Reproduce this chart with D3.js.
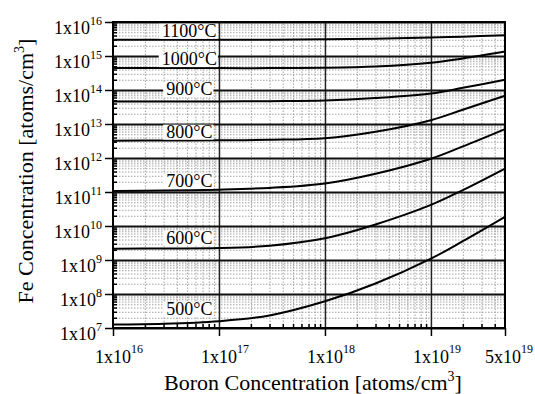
<!DOCTYPE html>
<html>
<head>
<meta charset="utf-8">
<script src="https://cdn.jsdelivr.net/npm/d3@7"></script>
<style>
  body { margin: 0; background: #fff; }
  svg { display: block; }
  text { font-family: "Liberation Serif", "Times New Roman", serif; fill: #000; }
</style>
</head>
<body>
<svg id="chart" width="535" height="394"></svg>
<script>
// Boron concentration sample points [atoms/cm^3]
const boron = [1e16, 3e16, 1e17, 3e17, 1e18, 3e18, 1e19, 2e19, 5e19];

// Fe solubility [atoms/cm^3] at each boron concentration, per anneal temperature
const fe1100 = [3.0e15, 3.0e15, 3.0e15, 3.0e15, 3.1e15, 3.2e15, 3.5e15, 3.7e15, 4.1e15];
const fe1000 = [4.4e14, 4.4e14, 4.4e14, 4.4e14, 4.5e14, 4.9e14, 6.3e14, 8.5e14, 1.35e15];
const fe900  = [4.6e13, 4.6e13, 4.6e13, 4.7e13, 4.9e13, 5.8e13, 7.9e13, 1.16e14, 2.0e14];
const fe800  = [3.24e12, 3.27e12, 3.31e12, 3.43e12, 3.8e12, 5.9e12, 1.29e13, 2.63e13, 6.8e13];
const fe700  = [1.07e11, 1.1e11, 1.17e11, 1.32e11, 1.78e11, 3.44e11, 9.5e11, 2.19e12, 7.1e12];
const fe600  = [2.16e9, 2.19e9, 2.24e9, 2.63e9, 4.37e9, 1.11e10, 4.17e10, 1.14e11, 4.9e11];
const fe500  = [1.26e7, 1.33e7, 1.59e7, 2.34e7, 6.1e7, 2.04e8, 1.1e9, 3.58e9, 1.86e10];

const temperatures = ["1100°C", "1000°C", "900°C", "800°C", "700°C", "600°C", "500°C"];
const series = [fe1100, fe1000, fe900, fe800, fe700, fe600, fe500];

// Axis tick labels: mantissa and exponent
const xTicks = [1e16, 1e17, 1e18, 1e19, 5e19];
const xTickMantissa = ["1", "1", "1", "1", "5"];
const xTickExponent = ["16", "17", "18", "19", "19"];
const yTickExponent = [7, 8, 9, 10, 11, 12, 13, 14, 15, 16];

// ---- layout ----
const W = 535, H = 394;
const plot = { left: 113, right: 505, top: 22, bottom: 328 };
const labelCenter = 5.25e16;              // boron value under the curve labels
const labelShift = [-3, -3, -6.5, -3, -4, -5, -10]; // label baseline relative to curve start

const svg = d3.select("#chart");
svg.append("rect").attr("width", W).attr("height", H).attr("fill", "#fff");

const x = d3.scaleLog().domain([1e16, 5e19]).range([plot.left, plot.right]);
const y = d3.scaleLog().domain([1e7, 1e16]).range([plot.bottom, plot.top]);

const pw = plot.right - plot.left, ph = plot.bottom - plot.top;

// minor values (2..9 of each decade)
const minorX = [];
for (let k = 16; k <= 19; k++) for (let m = 2; m <= 9; m++) { const v = m * Math.pow(10, k); if (v < 5e19) minorX.push(v); }
const minorY = [];
for (let k = 7; k <= 15; k++) for (let m = 2; m <= 9; m++) minorY.push(m * Math.pow(10, k));
const majorY = yTickExponent.map(e => Math.pow(10, e));
const majorXGrid = [1e17, 1e18, 1e19];

// ---- grid ----
const minorStyle = sel => sel.attr("stroke", "#9a9a9a").attr("stroke-width", 0.9).attr("stroke-dasharray", "1.5,1.5");
const grid = svg.append("g");
grid.append("g").attr("transform", `translate(0,${plot.bottom})`)
  .call(d3.axisBottom(x).tickValues(minorX).tickSize(-ph).tickFormat(""))
  .call(g => g.select(".domain").remove())
  .selectAll("line").call(minorStyle);
grid.append("g").attr("transform", `translate(${plot.left},0)`)
  .call(d3.axisLeft(y).tickValues(minorY).tickSize(-pw).tickFormat(""))
  .call(g => g.select(".domain").remove())
  .selectAll("line").call(minorStyle);
grid.append("g").attr("transform", `translate(0,${plot.bottom})`)
  .call(d3.axisBottom(x).tickValues(majorXGrid).tickSize(-ph).tickFormat(""))
  .call(g => g.select(".domain").remove())
  .selectAll("line").attr("stroke", "#222").attr("stroke-width", 1.5);
grid.append("g").attr("transform", `translate(${plot.left},0)`)
  .call(d3.axisLeft(y).tickValues(majorY).tickSize(-pw).tickFormat(""))
  .call(g => g.select(".domain").remove())
  .selectAll("line").attr("stroke", "#111").attr("stroke-width", 2);

// ---- curve labels (white boxes knock out the grid behind them) ----
const labels = svg.append("g");
temperatures.forEach((t, i) => {
  const base = y(series[i][0]) + labelShift[i];
  const txt = labels.append("text")
    .attr("x", x(labelCenter)).attr("y", base)
    .attr("text-anchor", "middle").attr("font-size", 18).text(t);
  const bb = txt.node().getBBox();
  labels.insert("rect", "text")
    .attr("x", bb.x - 3).attr("y", base - 13)
    .attr("width", bb.width + 4).attr("height", 15)
    .attr("fill", "#fff");
});

// ---- curves ----
const line = d3.line().x(d => x(d[0])).y(d => y(d[1])).curve(d3.curveCatmullRom.alpha(0.5));
svg.append("g").selectAll("path").data(series).join("path")
  .attr("d", s => line(boron.map((b, j) => [b, s[j]])))
  .attr("fill", "none").attr("stroke", "#000").attr("stroke-width", 2);

labels.raise();

// ---- frame ----
svg.append("rect").attr("x", plot.left).attr("y", plot.top)
  .attr("width", pw).attr("height", ph)
  .attr("fill", "none").attr("stroke", "#000").attr("stroke-width", 2);

// ---- ticks ----
const tickStyle = g => { g.select(".domain").remove(); g.selectAll("line").attr("stroke", "#000").attr("stroke-width", 1.5); };
svg.append("g").attr("transform", `translate(0,${plot.bottom})`)
  .call(d3.axisBottom(x).tickValues(xTicks).tickSize(8).tickFormat("")).call(tickStyle);
svg.append("g").attr("transform", `translate(0,${plot.bottom})`)
  .call(d3.axisBottom(x).tickValues(minorX).tickSize(-4).tickFormat("")).call(tickStyle);
svg.append("g").attr("transform", `translate(${plot.left},0)`)
  .call(d3.axisLeft(y).tickValues(majorY).tickSize(8).tickFormat("")).call(tickStyle);
svg.append("g").attr("transform", `translate(${plot.left},0)`)
  .call(d3.axisLeft(y).tickValues(minorY).tickSize(-4).tickFormat("")).call(tickStyle);

// ---- tick labels ----
yTickExponent.forEach(e => {
  const t = svg.append("text")
    .attr("x", plot.left - 11).attr("y", y(Math.pow(10, e)) + 12)
    .attr("text-anchor", "end").attr("font-size", 18);
  t.append("tspan").text("1x10");
  t.append("tspan").attr("font-size", 12).attr("dy", -9).text(e);
});
xTicks.forEach((v, i) => {
  const t = svg.append("text").attr("y", 363).attr("font-size", 18);
  const m = t.append("tspan").text(xTickMantissa[i] + "x10");
  t.append("tspan").attr("font-size", 12).attr("dy", -10).text(xTickExponent[i]);
  const baseW = m.node().getComputedTextLength();
  const totalW = t.node().getComputedTextLength();
  let x0 = x(v) - baseW / 2;
  if (x0 + totalW > W - 2) x0 = W - 2 - totalW;
  t.attr("x", x0);
});

// ---- axis titles ----
const xt = svg.append("text").attr("x", (plot.left + plot.right) / 2 + 4).attr("y", 390)
  .attr("text-anchor", "middle").attr("font-size", 22);
xt.append("tspan").text("Boron Concentration [atoms/cm");
xt.append("tspan").attr("font-size", 14).attr("dy", -9).text("3");
xt.append("tspan").attr("dy", 9).text("]");

const yt = svg.append("text").attr("transform", `translate(33,${(plot.top + plot.bottom) / 2 - 4}) rotate(-90)`)
  .attr("text-anchor", "middle").attr("font-size", 22);
yt.append("tspan").text("Fe Concentration [atoms/cm");
yt.append("tspan").attr("font-size", 14).attr("dy", -9).text("3");
yt.append("tspan").attr("dy", 9).text("]");
</script>
</body>
</html>
